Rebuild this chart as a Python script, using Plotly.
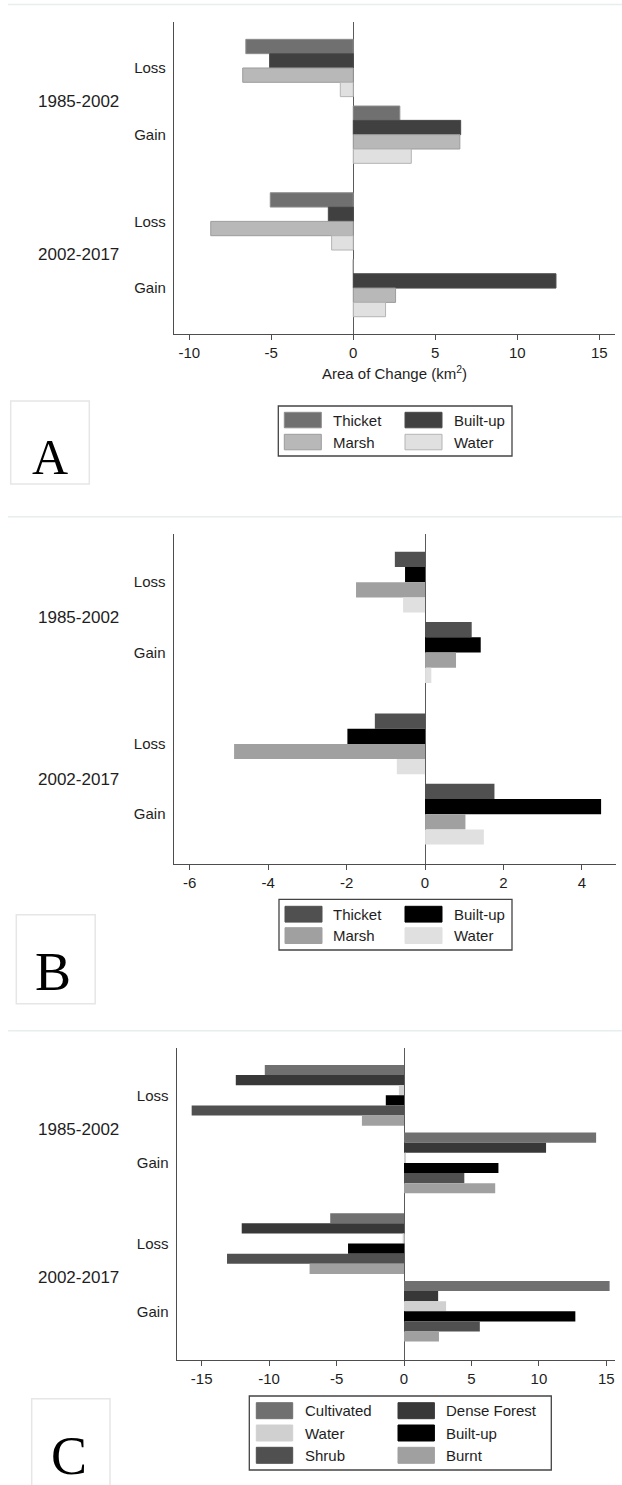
import plotly.graph_objects as go

W, H = 622, 1485

# ---------------- data ----------------
periods = ["1985-2002", "2002-2017"]
changes = ["Loss", "Gain"]
# each series: [1985-2002 Loss, 1985-2002 Gain, 2002-2017 Loss, 2002-2017 Gain]

# Panel A
a_classes = ["Thicket", "Built-up", "Marsh", "Water"]
a_thicket = [-6.55, 2.84, -5.06, 0.0]
a_builtup = [-5.10, 6.55, -1.52, 12.36]
a_marsh = [-6.74, 6.50, -8.69, 2.58]
a_water = [-0.79, 3.54, -1.32, 1.97]
a_ticks = [-10, -5, 0, 5, 10, 15]

# Panel B
b_classes = ["Thicket", "Built-up", "Marsh", "Water"]
b_thicket = [-0.77, 1.19, -1.28, 1.77]
b_builtup = [-0.51, 1.42, -1.98, 4.49]
b_marsh = [-1.76, 0.79, -4.87, 1.03]
b_water = [-0.56, 0.16, -0.72, 1.50]
b_ticks = [-6, -4, -2, 0, 2, 4]

# Panel C
c_classes = ["Cultivated", "Dense Forest", "Water", "Built-up", "Shrub", "Burnt"]
c_cultivated = [-10.32, 14.24, -5.47, 15.24]
c_dense_forest = [-12.47, 10.53, -12.03, 2.53]
c_water = [-0.38, 0.15, -0.05, 3.12]
c_builtup = [-1.35, 7.00, -4.15, 12.70]
c_shrub = [-15.74, 4.47, -13.12, 5.62]
c_burnt = [-3.12, 6.76, -7.00, 2.59]
c_ticks = [-15, -10, -5, 0, 5, 10, 15]

x_title_a = "Area of Change (km<sup>2</sup>)"
panel_letters = ["A", "B", "C"]

# ---------------- styles ----------------
a_colors = ["#707070", "#404040", "#b8b8b8", "#e0e0e0"]
a_edges = ["#8c8c8c", "#4a4a4a", "#9c9c9c", "#b4b4b4"]
b_colors = ["#505050", "#000000", "#a0a0a0", "#e0e0e0"]
c_colors = ["#707070", "#383838", "#d0d0d0", "#000000", "#505050", "#a0a0a0"]

SANS = "Liberation Sans, Arial, sans-serif"
SERIF = "Liberation Serif, Times New Roman, serif"
TXT = "#1e1e1e"
AX = "#4d4d4d"


def px(x):
    return x / W


def py(y):
    return 1 - y / H


fig = go.Figure()
shapes = []
annotations = []
layout_axes = {}


def add_panel(idx, series, names, colors, edges, edge_w, ticks, xrange,
              ydom_px, xdom_px, period_gap, group_frac, yrange, xtitle=None):
    sfx = "" if idx == 1 else str(idx)
    positions = [p * (1 + period_gap) + s for p in range(len(periods)) for s in range(len(changes))]
    n = len(series)
    bw = group_frac / n
    for i, (vals, name, col) in enumerate(zip(series, names, colors)):
        fig.add_trace(go.Bar(
            x=vals, y=positions, orientation="h", name=name,
            width=bw, offset=-group_frac / 2 + i * bw,
            marker=dict(color=col,
                        line=dict(color=(edges[i] if edges else col), width=edge_w)),
            xaxis="x" + sfx, yaxis="y" + sfx, showlegend=False,
            hovertemplate=name + ": %{x}<extra></extra>",
        ))
    xa = dict(
        domain=[px(xdom_px[0]), px(xdom_px[1])], anchor="y" + sfx,
        range=xrange, tickvals=ticks, ticktext=[str(t) for t in ticks],
        ticks="outside", ticklen=5, tickwidth=1.2, tickcolor=AX,
        showline=True, linecolor=AX, linewidth=1.3,
        showgrid=False, zeroline=True, zerolinecolor="#5a5a5a", zerolinewidth=1,
        tickfont=dict(family=SANS, size=15, color=TXT),
        fixedrange=True,
    )
    if xtitle:
        xa["title"] = dict(text=xtitle, font=dict(family=SANS, size=15, color=TXT), standoff=8)
    layout_axes["xaxis" + sfx] = xa
    layout_axes["yaxis" + sfx] = dict(
        domain=[py(ydom_px[1]), py(ydom_px[0])], anchor="x" + sfx,
        range=yrange, tickvals=positions,
        ticktext=[c for _ in periods for c in changes],
        ticks="outside", ticklen=4, tickcolor="rgba(0,0,0,0)",
        showline=True, linecolor=AX, linewidth=1.3,
        showgrid=False, zeroline=False,
        tickfont=dict(family=SANS, size=15, color=TXT),
        fixedrange=True,
    )
    for p, per in enumerate(periods):
        annotations.append(dict(
            text=per, x=px(78), xref="paper", xanchor="center",
            y=(positions[2 * p] + positions[2 * p + 1]) / 2, yref="y" + sfx,
            yanchor="middle", showarrow=False,
            font=dict(family=SANS, size=17, color=TXT),
        ))


def add_legend(names, colors, edges, box, col_sw_x, sw_w, row_y, sw_h, col_txt_x):
    shapes.append(dict(type="rect", xref="paper", yref="paper",
                       x0=px(box[0]), x1=px(box[1]), y0=py(box[3]), y1=py(box[2]),
                       line=dict(color="#444444", width=1.3), fillcolor="white"))
    for k, name in enumerate(names):
        r, c = divmod(k, 2)
        y0 = row_y[r]
        shapes.append(dict(type="rect", xref="paper", yref="paper",
                           x0=px(col_sw_x[c]), x1=px(col_sw_x[c] + sw_w),
                           y0=py(y0 + sw_h), y1=py(y0),
                           line=dict(color=(edges[k] if edges else colors[k]), width=1),
                           fillcolor=colors[k]))
        annotations.append(dict(text=name, x=px(col_txt_x[c]), xref="paper", xanchor="left",
                                y=py(y0 + sw_h / 2), yref="paper", yanchor="middle",
                                showarrow=False,
                                font=dict(family=SANS, size=15, color=TXT)))


def add_letter(letter, box, size, center_y, center_x):
    shapes.append(dict(type="rect", xref="paper", yref="paper",
                       x0=px(box[0]), x1=px(box[1]), y0=py(box[3]), y1=py(box[2]),
                       line=dict(color="#e6e6e6", width=1.5), fillcolor="rgba(0,0,0,0)"))
    annotations.append(dict(text=letter, x=px(center_x), xref="paper", xanchor="center",
                            y=py(center_y), yref="paper", yanchor="middle", showarrow=False,
                            font=dict(family=SERIF, size=size, color="#000000")))


# separators
for ys in [4.5, 516.7, 1030.7]:
    shapes.append(dict(type="line", xref="paper", yref="paper", x0=px(8), x1=1,
                       y0=py(ys), y1=py(ys), line=dict(color="#e6eeee", width=1.5)))

# Panel A
add_panel(1, [a_thicket, a_builtup, a_marsh, a_water], a_classes, a_colors, a_edges, 1,
          a_ticks, [-10.93, 15.96], (21.7, 334.3), (174, 615), 1.3, 0.859,
          [3.993, -0.694], xtitle=x_title_a)
add_legend(a_classes, a_colors, a_edges, (278.3, 512, 406, 456), (284.3, 405), 37,
           (412.3, 434.3), 15.5, (331, 451.6))
add_letter(panel_letters[0], (10.7, 89.3, 401, 484), 50, 457.4, 49.7)

# Panel B
add_panel(2, [b_thicket, b_builtup, b_marsh, b_water], b_classes, b_colors, None, 0,
          b_ticks, [-6.41, 4.87], (534.3, 863.7), (173.7, 616), 1.3, 0.865,
          [4.004, -0.681])
add_legend(b_classes, b_colors, None, (279, 512, 899.3, 950), (285, 405), 37,
           (906.3, 927.7), 15.8, (331, 451.6))
add_letter(panel_letters[1], (16.3, 95.2, 914.7, 1003.7), 54, 972.5, 53)

# Panel C
add_panel(3, [c_cultivated, c_dense_forest, c_water, c_builtup, c_shrub, c_burnt],
          c_classes, c_colors, None, 0, c_ticks, [-16.85, 15.64], (1048.3, 1360),
          (176.7, 615), 1.19, 0.897, [3.910, -0.694])
add_legend(c_classes, c_colors, None, (249.3, 551.3, 1396, 1470), (256.3, 398), 36.4,
           (1402.7, 1425, 1447.3), 16, (302.8, 444.3))
add_letter(panel_letters[2], (31.7, 110, 1398.7, 1492), 54, 1456.3, 69.3)

fig.update_layout(
    width=W, height=H,
    margin=dict(l=0, r=0, t=0, b=0),
    paper_bgcolor="white", plot_bgcolor="white",
    barmode="overlay",
    shapes=shapes, annotations=annotations,
    showlegend=False,
    font=dict(family=SANS, color=TXT),
    **layout_axes,
)

fig.write_html(
    "out.html",
    config={"displayModeBar": False},
    post_script="document.body.style.margin='0';document.body.style.overflow='hidden';",
)
